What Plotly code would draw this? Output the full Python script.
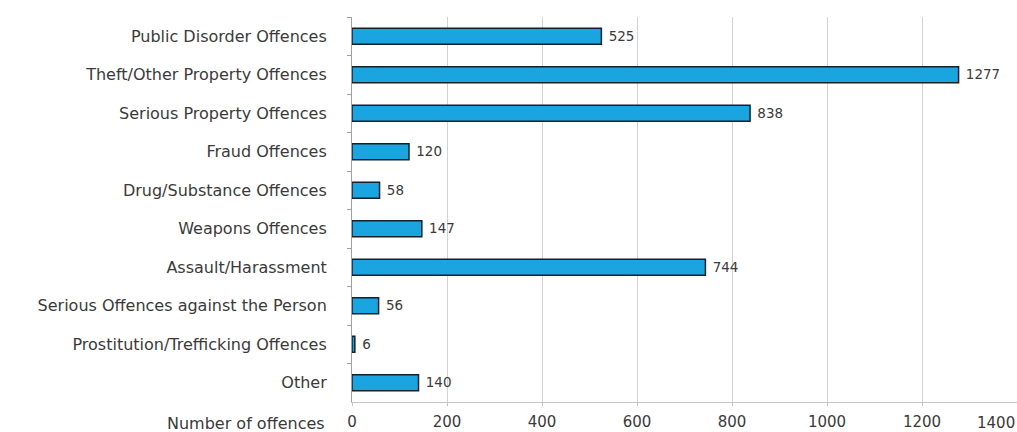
import plotly.graph_objects as go

categories = [
    "Public Disorder Offences",
    "Theft/Other Property Offences",
    "Serious Property Offences",
    "Fraud Offences",
    "Drug/Substance Offences",
    "Weapons Offences",
    "Assault/Harassment",
    "Serious Offences against the Person",
    "Prostitution/Trefficking Offences",
    "Other",
]
values = [525, 1277, 838, 120, 58, 147, 744, 56, 6, 140]
x_ticks = [0, 200, 400, 600, 800, 1000, 1200, 1400]
x_title = "Number of offences"

FONT = "DejaVu Sans"
TXT = "#3a3a3a"

fig = go.Figure()
fig.add_trace(go.Bar(
    x=values,
    y=categories,
    orientation="h",
    width=0.42,
    marker=dict(color="#1aa5e0", line=dict(color="#15202b", width=1.5)),
    text=["\u00a0" + str(v) for v in values],
    textposition="outside",
    textfont=dict(family=FONT, size=15, color=TXT),
    cliponaxis=False,
))

fig.update_layout(
    width=1017,
    height=432,
    margin=dict(l=352, r=0, t=17, b=30, autoexpand=False),
    paper_bgcolor="white",
    plot_bgcolor="white",
    showlegend=False,
    font=dict(family=FONT, size=15, color=TXT),
)
fig.update_xaxes(
    range=[0, 1400],
    tickvals=x_ticks[:-1],
    ticktext=[str(t) for t in x_ticks[:-1]],
    showgrid=True,
    gridcolor="#d2d2d2",
    gridwidth=1,
    zeroline=False,
    showline=True,
    linecolor="#c4c4c4",
    linewidth=1,
    ticks="outside",
    ticklen=3,
    tickcolor="#c4c4c4",
    ticklabelstandoff=3,
    tickfont=dict(family=FONT, size=15, color=TXT),
    automargin=False,
)
fig.update_yaxes(
    autorange="reversed",
    showgrid=False,
    showline=True,
    linecolor="#a0a0a0",
    linewidth=1,
    ticks="outside",
    tickson="boundaries",
    ticklen=4,
    tickcolor="#a0a0a0",
    ticklabelstandoff=21,
    tickfont=dict(family=FONT, size=16, color=TXT),
    automargin=False,
)
# last tick label sits at the right edge of the page
fig.add_annotation(
    text=str(x_ticks[-1]),
    xref="paper", yref="paper",
    x=1, y=0,
    xanchor="right", yanchor="middle",
    yshift=-21,
    showarrow=False,
    font=dict(family=FONT, size=15, color=TXT),
)
fig.add_annotation(
    text=x_title,
    xref="paper", yref="paper",
    x=0, y=0,
    xanchor="right", yanchor="middle",
    xshift=-25, yshift=-21,
    showarrow=False,
    font=dict(family=FONT, size=16, color=TXT),
)

fig.write_html(
    "out.html",
    config={"displayModeBar": False},
    post_script="document.body.style.margin='0px';",
)
